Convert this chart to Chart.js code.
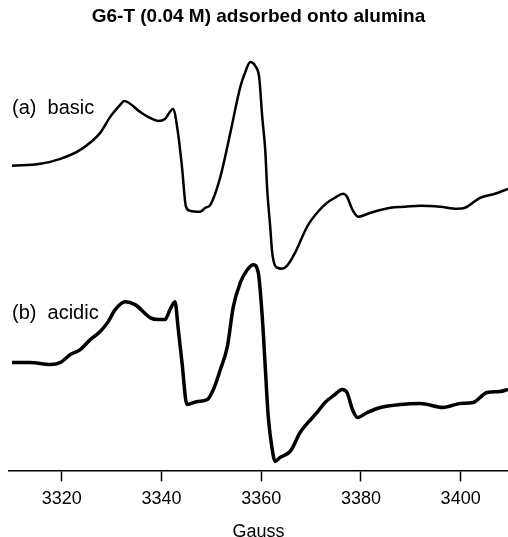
<!DOCTYPE html>
<html>
<head>
<meta charset="utf-8">
<script src="https://cdn.jsdelivr.net/npm/chart.js@4"></script>
<style>
  html, body { margin: 0; padding: 0; background: #fff; }
  #wrap { width: 508px; height: 537px; position: relative; }
</style>
</head>
<body>
<div id="wrap"><canvas id="epr"></canvas></div>
<script>
// Field positions (Gauss) and relative intensity
const fieldA = [3310.0, 3315.7, 3319.7, 3323.7, 3327.7, 3329.7, 3331.7, 3332.5, 3335.7, 3337.7,
    3339.3, 3340.7, 3342.3, 3343.3, 3344.1, 3344.9, 3345.7, 3347.7, 3348.8, 3349.8,
    3351.8, 3353.8, 3355.8, 3356.8, 3357.8, 3358.8, 3359.6, 3360.2, 3360.8, 3361.2,
    3361.8, 3362.2, 3363.2, 3364.2, 3365.2, 3366.8, 3369.2, 3371.2, 3373.2, 3374.8,
    3376.4, 3377.2, 3378.3, 3379.5, 3381.9, 3385.9, 3388.9, 3391.9, 3395.9, 3399.3,
    3400.9, 3403.9, 3406.9, 3409.5];
const intensityA = [305, 307, 312, 321, 338, 354, 366, 370, 359, 353,
    350, 352, 362, 338, 304, 264, 260, 259, 263, 266,
    294, 338, 384, 399, 409, 405, 393, 354, 321, 281,
    244, 218, 203, 202, 205, 218, 244, 258, 268, 273,
    277, 274, 261, 254, 258, 263, 264, 265, 264, 262,
    263, 273, 277, 282];

const fieldB = [3310.0, 3313.6, 3317.7, 3319.7, 3321.7, 3323.7, 3325.7, 3327.7, 3329.3, 3330.7,
    3332.7, 3334.7, 3337.7, 3339.3, 3340.7, 3341.7, 3342.7, 3343.3, 3344.1, 3345.1,
    3347.2, 3349.2, 3350.4, 3351.8, 3353.2, 3354.4, 3355.8, 3357.2, 3358.4, 3359.4,
    3360.2, 3360.8, 3361.4, 3362.2, 3362.8, 3363.8, 3365.8, 3367.8, 3369.4, 3371.2,
    3372.8, 3374.8, 3376.2, 3377.2, 3378.3, 3379.3, 3381.3, 3383.9, 3387.9, 3391.9,
    3396.5, 3399.9, 3402.5, 3405.3, 3407.9, 3409.5];
const intensityB = [108, 108, 106, 108, 116, 121, 131, 139, 149, 161,
    169, 166, 153, 151, 151, 161, 169, 144, 108, 66,
    69, 71, 81, 101, 124, 164, 188, 201, 206, 198,
    154, 104, 54, 21, 9, 13, 19, 38, 48, 58,
    68, 76, 81, 78, 61, 53, 58, 63, 66, 67,
    63, 67, 68, 78, 79, 81];

const tickValues = [3320, 3340, 3360, 3380, 3400];
const traceLabels = ['(a)  basic', '(b)  acidic'];
const labelAnchors = [[3310.0, 362], [3310.0, 157]];

function toPoints(xs, ys) {
    return xs.map((x, i) => ({ x: x, y: ys[i] }));
}

// Draws the "(a) basic" / "(b) acidic" captions next to the traces
const traceCaptions = {
    id: 'traceCaptions',
    afterDatasetsDraw(chart) {
        const ctx = chart.ctx;
        const xs = chart.scales.x, ys = chart.scales.y;
        ctx.save();
        ctx.fillStyle = '#000';
        ctx.font = '20px "Liberation Sans", Arial, sans-serif';
        ctx.textBaseline = 'middle';
        traceLabels.forEach((txt, i) => {
            ctx.fillText(txt, xs.getPixelForValue(labelAnchors[i][0]), ys.getPixelForValue(labelAnchors[i][1]));
        });
        ctx.restore();
    }
};

const ctx = document.getElementById('epr').getContext('2d');
const eprChart = new Chart(ctx, {
    type: 'line',
    data: {
        datasets: [{
            label: 'basic',
            data: toPoints(fieldA, intensityA),
            borderColor: '#000',
            borderWidth: 2.5,
            pointRadius: 0,
            cubicInterpolationMode: 'monotone'
        }, {
            label: 'acidic',
            data: toPoints(fieldB, intensityB),
            borderColor: '#000',
            borderWidth: 3.5,
            pointRadius: 0,
            cubicInterpolationMode: 'monotone'
        }]
    },
    options: {
        responsive: true,
        maintainAspectRatio: false,
        animation: false,
        layout: { padding: { left: 9, right: 0, top: 0, bottom: 0 } },
        plugins: {
            legend: { display: false },
            tooltip: { enabled: false },
            title: {
                display: true,
                text: 'G6-T (0.04 M) adsorbed onto alumina',
                color: '#000',
                font: { family: '"Liberation Sans", Arial, sans-serif', size: 19, weight: 'bold', lineHeight: 1.2 },
                padding: { top: 5, bottom: 13.2 }
            }
        },
        scales: {
            x: {
                type: 'linear',
                min: 3309.4,
                max: 3409.5,
                afterBuildTicks: (scale) => { scale.ticks = tickValues.map(v => ({ value: v })); },
                grid: { drawOnChartArea: false, drawTicks: true, tickLength: 11, color: '#000', tickWidth: 1.5 },
                border: { display: true, color: '#000', width: 1.5 },
                ticks: {
                    color: '#000',
                    padding: 8,
                    maxRotation: 0,
                    callback: (value) => String(value),
                    font: { family: '"Liberation Sans", Arial, sans-serif', size: 18, lineHeight: 1.1 }
                },
                title: {
                    display: true,
                    text: 'Gauss',
                    color: '#000',
                    padding: { top: 5, bottom: -5 },
                    font: { family: '"Liberation Sans", Arial, sans-serif', size: 18, lineHeight: 1.1 }
                }
            },
            y: {
                display: false,
                min: 0,
                max: 430
            }
        }
    },
    plugins: [traceCaptions]
});
</script>
</body>
</html>
